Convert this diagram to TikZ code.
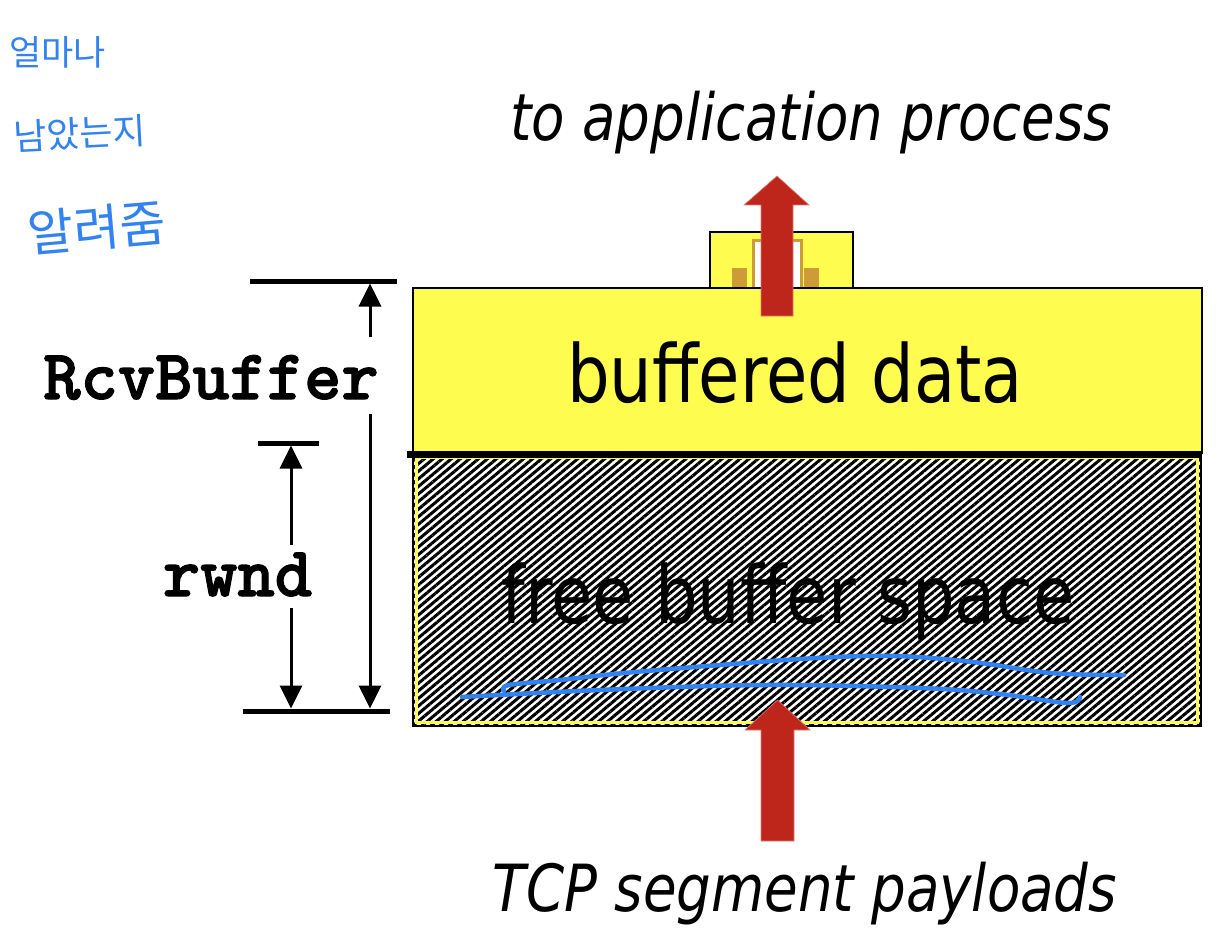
\documentclass[tikz,border=0pt]{standalone}
\usepackage{fontspec}
\usetikzlibrary{patterns.meta,arrows.meta}
\newfontfamily\vfont[FakeStretch=0.84,ItalicFont={DejaVu Sans Oblique}]{DejaVu Sans}
\newfontfamily\mfont[FakeBold=1.6]{lmmonolt10-bold.otf}
\newfontfamily\krfont{Noto Sans CJK KR}
\definecolor{byel}{RGB}{255,252,80}
\definecolor{ared}{RGB}{190,38,28}
\definecolor{tanc}{RGB}{205,155,55}
\definecolor{ink}{RGB}{50,130,240}
\tikzset{
  bigtxt/.style={font=\vfont\fontsize{80}{90}\selectfont, inner sep=0pt, anchor=base},
  captxt/.style={font=\vfont\itshape\fontsize{65}{75}\selectfont, inner sep=0pt, anchor=base},
  monotxt/.style={font=\mfont\fontsize{71}{80}\selectfont, inner sep=0pt, anchor=base},
  hand/.style={text=ink, inner sep=0pt, anchor=east},
  dimbar/.style={line width=5pt, line cap=butt},
  dimarrow/.style={line width=3pt, -{Triangle[length=23pt,width=22pt]}},
  blockarrow/.style={fill=ared, draw=ared!60!white, line width=0.6pt},
  scribble/.style={draw=ink, line width=4.5pt, line cap=round, line join=round},
}
\begin{document}
\begin{tikzpicture}[x=1pt,y=-1pt]
\useasboundingbox[fill=white] (0,0) rectangle (1220,936);

% handwritten annotation
\node[hand, font=\krfont\fontsize{35}{40}\selectfont] (h1) at (106,52) {얼마나};
\node[hand, font=\krfont\fontsize{36}{42}\selectfont, rotate=3] (h2) at (146,130) {남았는지};
\node[hand, font=\krfont\fontsize{50}{56}\selectfont, rotate=5] (h3) at (166,222) {알려줌};

% small box on top
\node[draw=black, fill=byel, line width=2.5pt, minimum width=143pt, minimum height=56pt, inner sep=0pt] (app) at (781.5,260) {};
\node[draw=tanc, fill=white, line width=3pt, minimum width=48pt, minimum height=48pt, inner sep=0pt] (slot) at (777,264) {};
\fill[tanc] (732,268) rectangle (747,288);
\fill[tanc] (804,268) rectangle (819,288);

% free buffer space (hatched)
\fill[white] (413,456) rectangle (1201,726);
\path[pattern={Lines[angle=40,distance=5.8pt,line width=3pt]}, pattern color=black] (413,456) rectangle (1201,726);
\node[minimum width=788pt, minimum height=270pt, inner sep=0pt] (free) at (807,591) {};
\draw[byel, line width=2.5pt] (416.5,458) rectangle (1197.5,722.5);
\draw[black, line width=2pt] (413,456) rectangle (1201,726);
\node[bigtxt] (freetxt) at (788,623) {free buffer space};

% buffered data
\node[draw=black, fill=byel, line width=2.5pt, minimum width=789pt, minimum height=165pt, inner sep=0pt] (buf) at (807.5,370.5) {};
\node[bigtxt] (buftxt) at (795,402) {buffered data};
\draw[line width=7pt] (407,454) -- (1202,454);

% red block arrows
\path[blockarrow] (761,316) -- (761,205) -- (744,205) -- (777,176) -- (809,205) -- (793,205) -- (793,316) -- cycle;
\path[blockarrow] (761,841) -- (761,730) -- (745,730) -- (777.5,700) -- (810,730) -- (794,730) -- (794,841) -- cycle;

% captions
\node[captxt] (tapp) at (811,141) {to application process};
\node[captxt] (tseg) at (805,911) {TCP segment payloads};

% dimension bars
\coordinate (tb1) at (250,281); \coordinate (tb2) at (397,281);
\coordinate (mb1) at (258,443); \coordinate (mb2) at (319,443);
\coordinate (bb1) at (243,711); \coordinate (bb2) at (390,711);
\draw[dimbar] (tb1) -- (tb2);
\draw[dimbar] (mb1) -- (mb2);
\draw[dimbar] (bb1) -- (bb2);

% labels
\node[monotxt] (rcv) at (211,399) {RcvBuffer};
\node[monotxt] (rwnd) at (237.5,596) {rwnd};

% dimension arrows
\coordinate (r1s) at (370,337); \coordinate (r1e) at (370,283.5);
\coordinate (r2s) at (370,414); \coordinate (r2e) at (370,708.5);
\coordinate (w1s) at (291,545); \coordinate (w1e) at (291,445.5);
\coordinate (w2s) at (291,608); \coordinate (w2e) at (291,708.5);
\draw[dimarrow] (r1s) -- (r1e);
\draw[dimarrow] (r2s) -- (r2e);
\draw[dimarrow] (w1s) -- (w1e);
\draw[dimarrow] (w2s) -- (w2e);

% blue scribble under "free buffer space"
\draw[scribble] plot[smooth, tension=0.6] coordinates {(462,697) (600,690) (765,685) (921,688) (1000,694) (1067,703) (1080,697)};
\draw[scribble] plot[smooth, tension=0.6] coordinates {(504,691) (509,685) (560,680) (624,673) (720,665) (817,658) (895,656) (973,662) (1051,673) (1124,675)};
\end{tikzpicture}
\end{document}
